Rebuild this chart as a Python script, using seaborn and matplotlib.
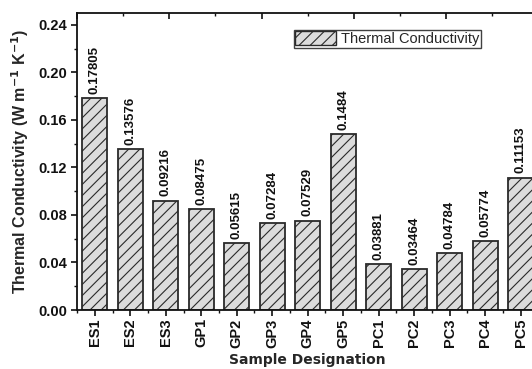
import matplotlib
matplotlib.use("Agg")
import matplotlib.pyplot as plt
from matplotlib.patches import Patch
from matplotlib.ticker import MultipleLocator
import seaborn as sns
import pandas as pd

samples = ["ES1", "ES2", "ES3", "GP1", "GP2", "GP3", "GP4", "GP5",
           "PC1", "PC2", "PC3", "PC4", "PC5"]
conductivity = [0.17805, 0.13576, 0.09216, 0.08475, 0.05615, 0.07284, 0.07529,
                0.1484, 0.03881, 0.03464, 0.04784, 0.05774, 0.11153]
value_labels = ["0.17805", "0.13576", "0.09216", "0.08475", "0.05615", "0.07284",
                "0.07529", "0.1484", "0.03881", "0.03464", "0.04784", "0.05774",
                "0.11153"]

sns.set_style("ticks")
plt.rcParams["font.family"] = ["Liberation Sans", "DejaVu Sans"]
plt.rcParams["hatch.color"] = "#5a5a5a"
plt.rcParams["hatch.linewidth"] = 0.8

df = pd.DataFrame({"Sample": samples, "k": conductivity})

fig = plt.figure(figsize=(5.32, 3.69), dpi=100)
ax = fig.add_axes([77 / 532, 59 / 369, 461.5 / 532, 297 / 369])

sns.barplot(data=df, x="Sample", y="k", ax=ax, color="#dcdcdc", width=0.7,
            edgecolor="#2a2a2a", linewidth=1.3, hatch="///")

ax.bar_label(ax.containers[0], labels=value_labels, rotation=90, padding=3,
             fontsize=9.5, fontweight="bold", color="#111111")

ax.set_xlim(-0.5, 12.5)
ax.set_ylim(0, 0.25)
ax.yaxis.set_minor_locator(MultipleLocator(0.02))
ax.xaxis.set_minor_locator(MultipleLocator(0.5))
ax.set_yticks([0, 0.04, 0.08, 0.12, 0.16, 0.20, 0.24])
ax.set_yticklabels(["0.00", "0.04", "0.08", "0.12", "0.16", "0.20", "0.24"])

for lbl in ax.get_yticklabels():
    lbl.set_fontweight("bold")
    lbl.set_fontsize(10.5)
for lbl in ax.get_xticklabels():
    lbl.set_fontweight("bold")
    lbl.set_fontsize(10.5)
    lbl.set_rotation(90)

ax.tick_params(axis="both", which="major", direction="out", length=4,
               width=1.2, colors="#111111", pad=2)
ax.tick_params(axis="both", which="minor", direction="out", length=2,
               width=1.0, colors="#111111")
ax.tick_params(axis="y", which="major", pad=3)

for side in ["left", "bottom", "top", "right"]:
    ax.spines[side].set_linewidth(1.3)
    ax.spines[side].set_color("#111111")

ax.set_ylabel("Thermal Conductivity (W m$^{\\mathbf{-1}}$ K$^{\\mathbf{-1}}$)",
              fontsize=11.5, fontweight="bold", labelpad=5)
ax.set_xlabel("Sample Designation", fontsize=10, fontweight="bold",
              family="DejaVu Sans", labelpad=4)

# mirrored top axis with inward ticks
top = ax.twiny()
top.set_xlim(0, 1)
top.xaxis.set_major_locator(MultipleLocator(0.2))
top.xaxis.set_minor_locator(MultipleLocator(0.1))
top.tick_params(axis="x", which="major", direction="in", length=4, width=1.2,
                labeltop=False, colors="#111111")
top.tick_params(axis="x", which="minor", direction="in", length=2, width=1.0,
                colors="#111111")
for side in ["left", "bottom", "top", "right"]:
    top.spines[side].set_visible(False)

handle = Patch(facecolor="#dcdcdc", edgecolor="#2a2a2a", hatch="///",
               linewidth=1.0, label="Thermal Conductivity")
leg = ax.legend(handles=[handle], loc="upper left",
                bbox_to_anchor=(217 / 461.5, 1 - 17 / 297), frameon=True,
                fancybox=False, edgecolor="#111111", fontsize=10.5,
                handlelength=2.8, handleheight=1.1, handletextpad=0.3,
                borderpad=0.1, borderaxespad=0)
leg.get_frame().set_linewidth(1.0)

fig.savefig("out.png", dpi=100)
